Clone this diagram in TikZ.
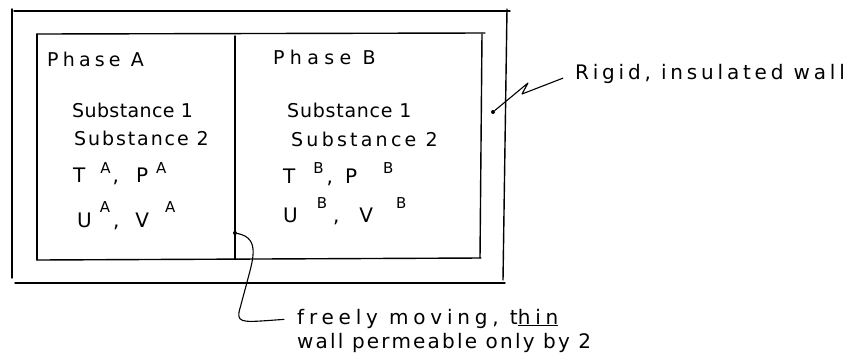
\documentclass[tikz,border=0pt]{standalone}
\usepackage{fontspec}
\setmainfont{DejaVu Sans}
\newcommand{\sx}[2]{\raisebox{#1}{\fontsize{15}{15}\selectfont #2}}
\newcommand{\ls}[2]{{\addfontfeatures{LetterSpace=#1}#2}}
\newcommand{\hs}[1]{\hspace{#1pt}}
\begin{document}
\begin{tikzpicture}[x=1pt,y=-1pt,
  wall/.style={line width=1.4pt,line cap=round},
  lead/.style={line width=1.1pt,line cap=round,line join=round},
  lbl/.style={font=\fontsize{19}{22}\selectfont,inner sep=0pt,anchor=base west},
  var/.style={font=\fontsize{20}{22}\selectfont,inner sep=0pt,anchor=base west},
  big/.style={font=\fontsize{20}{24}\selectfont,inner sep=0pt,anchor=base west},
  dotc/.style={circle,fill=black,inner sep=0pt,minimum size=4pt}]
\useasboundingbox (0,0) rectangle (856,360);
% outer rigid wall
\draw[wall] (14,11) -- (510,11);
\draw[wall] (12,9) -- (12,278);
\draw[wall] (15,283) -- (505,283);
\draw[wall] (507,9) -- (503,280);
% inner box
\draw[wall] (37,34) -- (485,33);
\draw[wall] (37,34) -- (37,260);
\draw[wall] (37,260) -- (481,258);
\draw[wall] (482,34) -- (480,258);
% thin divider wall
\draw[wall] (235,36) -- (235,259);
% dots
\node[dotc] (dw) at (235,233) {};
\node[dotc] (dr) at (493,112) {};
% labels
\node[lbl] (pa) at (47,66) {\ls{22}{Phase A}};
\node[lbl] (pb) at (273,64) {\ls{28}{Phase B}};
\node[lbl] (sa1) at (72,117) {\ls{2}{Substance 1}};
\node[lbl] (sa2) at (74,145) {\ls{10}{Substance 2}};
\node[var] (tpa) at (73,182) {T\hs{15}\sx{9pt}{A}\hs{2},\hs{17}P\hs{8}\sx{9pt}{A}};
\node[var] (uva) at (77,227) {U\hs{8}\sx{15pt}{A}\hs{3},\hs{16}V\hs{16}\sx{15pt}{A}};
\node[lbl] (sb1) at (287,117) {\ls{4}{Substance 1}};
\node[lbl] (sb2) at (291,146) {\ls{17}{Substance 2}};
\node[var] (tpb) at (283,183) {T\hs{18}\sx{10pt}{B}\hs{3},\hs{12}P\hs{26}\sx{10pt}{B}};
\node[var] (uvb) at (283,222) {U\hs{19}\sx{14pt}{B}\hs{6},\hs{20}V\hs{23}\sx{14pt}{B}};
\node[big] (rigid) at (575,79) {\ls{19}{Rigid, insulated wall}};
\node[big] (free) at (297,324) {\ls{24}{freely moving, t\underline{hin}}};
\node[big] (free2) at (297,348) {\ls{11}{wall permeable only by 2}};
% leaders
\draw[lead,shorten >=13pt] (dr) -- (528,83) -- (522,94) -- (rigid.west);
\draw[lead,shorten >=13pt] (dw) .. controls (262,238) and (252,262) .. (246,286)
  -- (239,312) .. controls (237,324) and (246,322) .. (free.west);
\end{tikzpicture}
\end{document}
